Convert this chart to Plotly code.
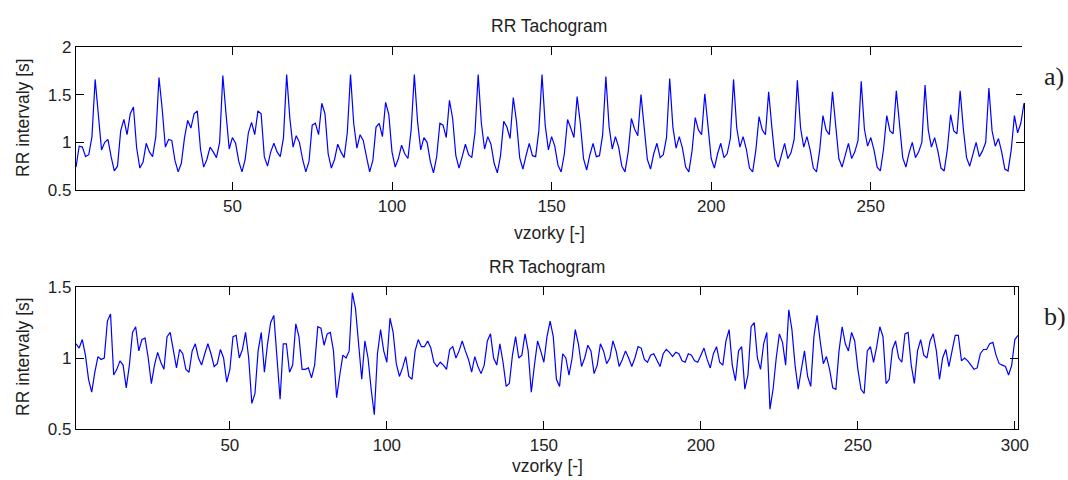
import plotly.graph_objects as go

# ---------------- data ----------------
# a) RR tachogram, samples 1..298
rr_a_start = [0.74, 0.96, 0.95, 0.85, 0.87, 1.06]
rr_a_c00 = [1.66, 1.32, 0.92, 1.00, 1.03, 0.85, 0.70, 0.75, 1.12, 1.24, 1.08, 1.30, 1.37, 0.94, 0.73, 0.79, 0.99, 0.90, 0.85, 1.06]
rr_a_c01 = [1.68, 1.35, 0.95, 1.03, 1.02, 0.81, 0.69, 0.78, 1.05, 1.23, 1.15, 1.30, 1.33, 0.93, 0.74, 0.82, 0.95, 0.90, 0.84, 1.00]
rr_a_c02 = [1.70, 1.30, 0.93, 1.05, 0.99, 0.80, 0.69, 0.82, 1.10, 1.21, 1.08, 1.33, 1.30, 0.85, 0.75, 0.90, 0.99, 0.90, 0.85, 1.05]
rr_a_c03 = [1.71, 1.25, 0.95, 1.07, 1.00, 0.82, 0.69, 0.80, 1.18, 1.20, 1.08, 1.41, 1.30, 0.88, 0.73, 0.82, 0.98, 0.90, 0.84, 1.10]
rr_a_c04 = [1.71, 1.20, 0.94, 1.08, 1.02, 0.85, 0.69, 0.81, 1.16, 1.20, 1.06, 1.42, 1.29, 0.90, 0.74, 0.83, 0.97, 0.88, 0.83, 1.13]
rr_a_c05 = [1.71, 1.22, 0.92, 1.05, 1.00, 0.80, 0.68, 0.85, 1.20, 1.18, 1.05, 1.44, 1.25, 0.86, 0.73, 0.85, 0.98, 0.87, 0.84, 1.10]
rr_a_c06 = [1.71, 1.20, 0.93, 1.06, 0.98, 0.78, 0.68, 0.86, 1.22, 1.16, 1.04, 1.47, 1.22, 0.84, 0.72, 0.86, 0.99, 0.86, 0.85, 1.12]
rr_a_c07 = [1.71, 1.18, 0.92, 1.06, 0.96, 0.76, 0.69, 0.88, 1.24, 1.15, 1.05, 1.48, 1.20, 0.83, 0.71, 0.87, 0.99, 0.85, 0.86, 1.08]
rr_a_c08 = [1.69, 1.17, 0.93, 1.06, 0.95, 0.75, 0.69, 0.90, 1.25, 1.14, 1.07, 1.50, 1.18, 0.82, 0.72, 0.88, 0.99, 0.84, 0.87, 1.05]
rr_a_c09 = [1.67, 1.16, 0.94, 1.06, 0.94, 0.74, 0.69, 0.91, 1.26, 1.13, 1.08, 1.51, 1.17, 0.83, 0.73, 0.88, 0.99, 0.84, 0.88, 1.04]
rr_a_c10 = [1.66, 1.15, 0.95, 1.06, 0.93, 0.73, 0.69, 0.92, 1.27, 1.13, 1.08, 1.53, 1.16, 0.83, 0.74, 0.88, 0.99, 0.83, 0.89, 1.03]
rr_a_c11 = [1.65, 1.15, 0.95, 1.06, 0.92, 0.73, 0.69, 0.92, 1.28, 1.13, 1.08, 1.53, 1.16, 0.83, 0.74, 0.88, 0.99, 0.83, 0.90, 1.02]
rr_a_c12 = [1.64, 1.14, 0.96, 1.05, 0.92, 0.74, 0.70, 0.93, 1.28, 1.12, 1.09, 1.54, 1.15, 0.84, 0.74, 0.89, 1.00, 0.84, 0.90, 1.00]
rr_a_c13 = [1.60, 1.13, 0.95, 1.05, 0.91, 0.73, 0.70, 0.93, 1.29, 1.12, 1.09, 1.54, 1.14, 0.84, 0.75, 0.89, 1.00, 0.85, 0.91, 1.00]
rr_a_c14 = [1.57, 1.12, 0.96, 1.04, 0.90, 0.72, 0.70, 0.92, 1.28, 1.10, 1.20, 1.41]

rr_a = (rr_a_start + rr_a_c00 + rr_a_c01 + rr_a_c02 + rr_a_c03 + rr_a_c04
        + rr_a_c05 + rr_a_c06 + rr_a_c07 + rr_a_c08 + rr_a_c09 + rr_a_c10
        + rr_a_c11 + rr_a_c12 + rr_a_c13 + rr_a_c14)

# b) RR tachogram, samples 1..301
rr_b = [
    1.10, 1.07, 1.13, 1.02, 0.85, 0.76, 0.90, 1.01, 0.99, 1.00,
    1.26, 1.31, 0.88, 0.92, 0.98, 0.95, 0.79, 0.95, 1.18, 1.22,
    1.05, 1.13, 1.14, 1.00, 0.82, 0.95, 1.04, 0.97, 0.92, 1.15,
    1.18, 1.05, 0.93, 1.06, 1.03, 0.92, 0.90, 1.05, 1.10, 1.00,
    0.95, 1.03, 1.10, 1.03, 0.94, 0.96, 1.06, 1.00, 0.83, 0.92,
    1.15, 1.16, 1.00, 1.06, 1.18, 1.00, 0.68, 0.75, 1.05, 1.18,
    0.90, 1.10, 1.25, 1.30, 0.98, 0.71, 1.10, 1.10, 0.90, 0.95,
    1.24, 1.15, 0.92, 0.92, 0.93, 0.86, 0.95, 1.22, 1.21, 1.09,
    1.17, 1.18, 1.05, 0.72, 0.88, 1.02, 1.00, 1.05, 1.46, 1.35,
    1.10, 0.85, 1.12, 1.00, 0.78, 0.60, 1.03, 1.20, 1.05, 0.97,
    1.28, 1.18, 0.96, 0.87, 0.93, 1.01, 0.87, 0.85, 1.05, 1.13,
    1.08, 1.08, 1.12, 1.07, 0.97, 0.94, 0.97, 0.95, 0.92, 1.06,
    1.08, 1.00, 1.05, 1.12, 1.05, 0.99, 0.90, 1.01, 0.94, 0.89,
    0.95, 1.12, 1.17, 1.00, 0.95, 1.10, 0.97, 0.80, 0.82, 1.02,
    1.15, 1.00, 1.02, 1.17, 1.05, 0.76, 0.95, 1.12, 1.05, 0.97,
    1.15, 1.26, 1.15, 0.85, 0.80, 1.03, 1.00, 0.88, 1.00, 1.20,
    1.10, 0.94, 1.00, 1.09, 1.05, 0.89, 0.95, 1.10, 1.05, 0.96,
    1.00, 1.12, 1.05, 0.94, 0.99, 1.05, 1.00, 0.94, 1.00, 1.08,
    1.07, 0.99, 0.97, 1.02, 1.03, 0.98, 0.94, 1.03, 1.06, 1.04,
    1.01, 1.04, 1.03, 0.98, 0.97, 1.03, 1.02, 0.98, 0.97, 1.02,
    1.07, 0.99, 0.93, 1.03, 1.08, 0.97, 0.95, 1.12, 1.20, 0.95,
    0.84, 1.05, 1.08, 0.78, 0.88, 1.22, 1.25, 1.00, 0.92, 1.10,
    1.18, 0.64, 0.78, 1.00, 1.17, 1.11, 0.95, 1.34, 1.20, 0.95,
    0.78, 0.92, 1.05, 0.87, 0.80, 1.15, 1.30, 1.12, 0.96, 1.01,
    0.92, 0.79, 0.78, 1.05, 1.22, 1.10, 1.05, 1.18, 1.12, 0.92,
    0.78, 0.75, 1.05, 1.08, 0.97, 1.08, 1.22, 1.15, 0.82, 0.85,
    1.06, 1.12, 1.00, 0.97, 1.17, 1.18, 0.95, 0.82, 1.05, 1.13,
    1.02, 1.00, 1.12, 1.17, 1.05, 0.85, 1.00, 1.06, 0.94, 1.05,
    1.16, 1.16, 0.98, 1.00, 0.98, 0.95, 0.92, 0.93, 1.03, 1.06,
    1.06, 1.10, 1.11, 1.02, 0.96, 0.95, 0.94, 0.88, 0.95, 1.13,
    1.16,
]

x_a = list(range(1, len(rr_a) + 1))
x_b = list(range(1, len(rr_b) + 1))

xticks_a = [50, 100, 150, 200, 250]
xticks_b = [50, 100, 150, 200, 250, 300]
yticks_a = [0.5, 1, 1.5, 2]
yticks_a_text = ["0.5", "1", "1.5", "2"]
yticks_b = [0.5, 1, 1.5]
yticks_b_text = ["0.5", "1", "1.5"]

title_text = "RR Tachogram"
xlabel_text = "vzorky [-]"
ylabel_text = "RR intervaly [s]"

# ---------------- figure ----------------
W, H = 1068, 480
def px(v):
    return v / W
def py(v):
    return 1 - v / H

FONT = "Liberation Sans, Arial, sans-serif"
TXT = "#1e1e1e"
LINE_BLUE = "#0000ff"

fig = go.Figure()
fig.add_trace(go.Scatter(x=x_a, y=rr_a, mode="lines",
                         line=dict(color=LINE_BLUE, width=1.2),
                         xaxis="x", yaxis="y", showlegend=False))
fig.add_trace(go.Scatter(x=x_b, y=rr_b, mode="lines",
                         line=dict(color=LINE_BLUE, width=1.2),
                         xaxis="x2", yaxis="y2", showlegend=False))

axis_common = dict(showgrid=False, zeroline=False, showline=True,
                   automargin=False,
                   linecolor="black", linewidth=1.2, mirror="ticks",
                   ticks="inside", ticklen=8, tickwidth=1.2, tickcolor="black",
                   tickfont=dict(family=FONT, size=17, color=TXT))

fig.update_layout(
    template="none",
    autosize=False,
    width=W, height=H,
    margin=dict(l=0, r=0, t=0, b=0, pad=0, autoexpand=False),
    paper_bgcolor="white", plot_bgcolor="white",
    xaxis=dict(domain=[px(76), px(1024)], range=[1, 298], anchor="y",
               tickvals=xticks_a, **axis_common),
    yaxis=dict(domain=[py(190), py(47)], range=[0.5, 2], anchor="x",
               tickvals=yticks_a, ticktext=yticks_a_text, **axis_common),
    xaxis2=dict(domain=[px(76), px(1018)], range=[1, 301], anchor="y2",
                tickvals=xticks_b, **axis_common),
    yaxis2=dict(domain=[py(429), py(287)], range=[0.5, 1.5], anchor="x2",
                tickvals=yticks_b, ticktext=yticks_b_text, **axis_common),
)

# white patch that hides the upper right corner of plot a) (as in the source)
fig.add_shape(type="rect", xref="paper", yref="paper",
              x0=px(1022), x1=1, y0=py(103), y1=1,
              line=dict(width=0), fillcolor="white", layer="above")

def ann(text, x, y, size=17.5, angle=0, family=FONT):
    fig.add_annotation(text=text, xref="paper", yref="paper",
                       x=px(x), y=py(y), xanchor="center", yanchor="middle",
                       showarrow=False, textangle=angle,
                       font=dict(family=family, size=size, color=TXT))

ann(title_text, 549, 26)
ann(title_text, 547, 267)
ann(xlabel_text, 549, 233)
ann(xlabel_text, 547, 466)
ann(ylabel_text, 23, 118, angle=-90)
ann(ylabel_text, 23, 357, angle=-90)
ann("a)", 1054, 76, size=26, family="Liberation Serif, Times New Roman, serif")
ann("b)", 1055, 316, size=26, family="Liberation Serif, Times New Roman, serif")

fig.write_html("out.html",
               config={"displayModeBar": False, "responsive": False},
               post_script="document.body.style.margin='0px';"
                           "document.body.style.overflow='hidden';")
